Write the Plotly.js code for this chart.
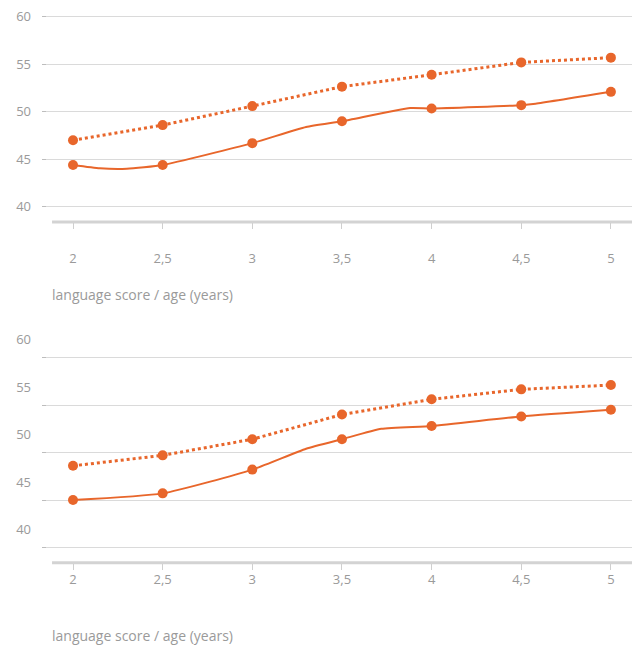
<!DOCTYPE html>
<html>
<head>
<meta charset="utf-8">
<script src="https://cdn.plot.ly/plotly-3.0.1.min.js"></script>
<style>html,body{margin:0;padding:0;background:#fff}#chart{width:632px;height:648px}</style>
</head>
<body>
<div id="chart"></div>
<script>
const ages = [2, 2.5, 3, 3.5, 4, 4.5, 5];
const xTickLabels = ['2', '2,5', '3', '3,5', '4', '4,5', '5'];
const yTicks = [40, 45, 50, 55, 60];
const axisTitle = 'language score / age (years)';

// top panel
const topDotted = [47.0, 48.6, 50.6, 52.65, 53.9, 55.2, 55.7];
const topSolid = [44.4, 44.4, 46.7, 49.0, 50.35, 50.7, 52.1];
const topSolidPathAges = [2, 2.15, 2.3, 2.5, 3, 3.3, 3.5, 3.88, 4, 4.5, 4.58, 5];
const topSolidPathValues = [44.4, 44.05, 44.0, 44.4, 46.7, 48.4, 49.0, 50.4, 50.35, 50.7, 50.85, 52.1];

// bottom panel
const bottomDotted = [48.6, 49.7, 51.4, 54.0, 55.6, 56.65, 57.1];
const bottomSolid = [45.0, 45.7, 48.2, 51.4, 52.8, 53.8, 54.5];
const bottomSolidPathAges = [2, 2.5, 3, 3.3, 3.5, 3.72, 4, 4.5, 5];
const bottomSolidPathValues = [45.0, 45.7, 48.2, 50.4, 51.4, 52.5, 52.8, 53.8, 54.5];

const orange = '#e8662b';
const font = 'Open Sans, Lato, sans-serif';

function panel(xa, ya, dotted, solid, pathX, pathY) {
  return [
    {x: pathX, y: pathY, xaxis: xa, yaxis: ya, mode: 'lines', type: 'scatter',
     line: {color: orange, width: 2, shape: 'spline', smoothing: 0.5}, hoverinfo: 'skip'},
    {x: ages, y: solid, xaxis: xa, yaxis: ya, mode: 'markers', type: 'scatter',
     marker: {color: orange, size: 10}},
    {x: ages, y: dotted, xaxis: xa, yaxis: ya, mode: 'lines+markers', type: 'scatter',
     line: {color: orange, width: 3, dash: 'dot'}, marker: {color: orange, size: 10}}
  ];
}

const data = [].concat(
  panel('x', 'y', topDotted, topSolid, topSolidPathAges, topSolidPathValues),
  panel('x2', 'y2', bottomDotted, bottomSolid, bottomSolidPathAges, bottomSolidPathValues)
);

function xAxis(anchor, standoff) {
  return {
    anchor: anchor, domain: [0, 1], range: [1.827, 5.1177],
    tickvals: ages, ticktext: xTickLabels,
    ticks: 'outside', ticklen: 6, tickcolor: '#cfcfcf', tickwidth: 1,
    ticklabelstandoff: standoff,
    showgrid: false, showline: false, zeroline: false,
    tickfont: {family: font, size: 13, color: '#9a9a9a'}
  };
}
function yAxis(anchor, domain, shift) {
  return {
    anchor: anchor, domain: domain, range: [38.4, 60.8],
    tickvals: yTicks, ticktext: yTicks.map(String),
    ticks: 'inside', ticklen: 4, tickcolor: '#bdbdbd',
    ticklabelstandoff: 10, ticklabelshift: shift,
    showgrid: true, gridcolor: '#dadada', gridwidth: 1,
    showline: false, zeroline: false,
    tickfont: {family: font, size: 13, color: '#9a9a9a'}
  };
}

const layout = {
  width: 632, height: 648,
  margin: {l: 42, r: 0, t: 0, b: 0},
  paper_bgcolor: '#fff', plot_bgcolor: '#fff',
  showlegend: false,
  xaxis: xAxis('y', 18),
  yaxis: yAxis('x', [0.6574, 0.9858], 0),
  xaxis2: xAxis('y2', -1),
  yaxis2: yAxis('x2', [0.1316, 0.46], -18),
  shapes: [
    {type: 'line', xref: 'x domain', yref: 'y domain', x0: 0.017, x1: 1, y0: 0, y1: 0,
     line: {color: '#d3d3d3', width: 3}, layer: 'below'},
    {type: 'line', xref: 'x2 domain', yref: 'y2 domain', x0: 0.017, x1: 1, y0: 0, y1: 0,
     line: {color: '#d3d3d3', width: 3}, layer: 'below'}
  ],
  annotations: [
    {text: axisTitle, xref: 'paper', yref: 'paper', x: 0.0136, y: 0.5448,
     xanchor: 'left', yanchor: 'middle', showarrow: false,
     font: {family: font, size: 14, color: '#9a9a9a'}},
    {text: axisTitle, xref: 'paper', yref: 'paper', x: 0.0136, y: 0.02,
     xanchor: 'left', yanchor: 'middle', showarrow: false,
     font: {family: font, size: 14, color: '#9a9a9a'}}
  ]
};

Plotly.newPlot('chart', data, layout, {displayModeBar: false, staticPlot: true});
</script>
</body>
</html>
